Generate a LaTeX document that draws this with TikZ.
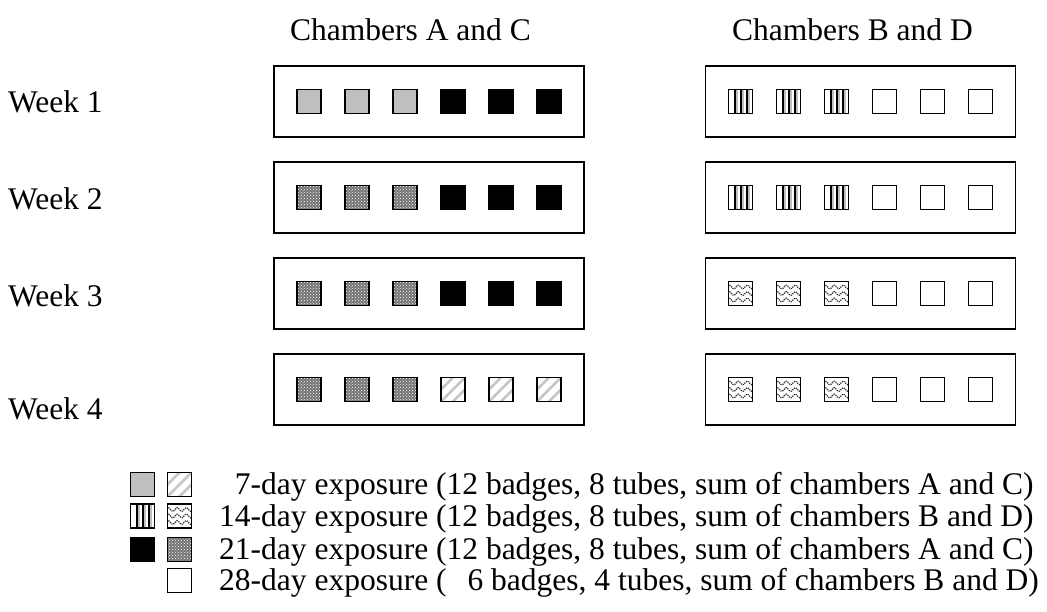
\documentclass[tikz,border=0pt]{standalone}
\usepackage{fontspec}
\setmainfont{Liberation Serif}
\usetikzlibrary{patterns}
\begin{document}
\begin{tikzpicture}[x=1pt,y=-1pt,
  every node/.style={font=\fontsize{31.5}{36}\selectfont},
  chamber/.style={draw, line width=1.8pt, minimum width=310pt, minimum height=71pt, inner sep=0pt},
  badge/.style={draw, line width=1.8pt, minimum size=24pt, inner sep=0pt},
  bgray/.style={badge, fill=black!25},
  bblack/.style={badge, fill=black},
  bwhite/.style={badge, fill=white},
  bvert/.style={badge, fill=white, path picture={
      \foreach \o in {-5.5,0.5,6.5} {
        \draw[black!25, line width=1.6pt, shift={(path picture bounding box.center)}] (\o+2,-14) -- (\o+2,14);
        \draw[black, line width=1.4pt, shift={(path picture bounding box.center)}] (\o,-14) -- (\o,14);
      }}},
  bcross/.style={badge, fill=black!55, path picture={
      \fill[pattern=crosshatch dots, pattern color=white] (path picture bounding box.south west) rectangle (path picture bounding box.north east);}},
  bdiag/.style={badge, fill=white, path picture={
      \foreach \o in {-24,-12,0,12,24}
        \draw[black!22, line width=2.8pt, shift={(path picture bounding box.center)}] (\o-14,14) -- (\o+14,-14);}},
  bwave/.style={badge, fill=white, path picture={
      \foreach \dy in {-6.5,0,6.5}
        \draw[black!85, line width=1.2pt, densely dotted, shift={(path picture bounding box.center)}]
          plot[domain=-13:13, samples=40, smooth] (\x, {\dy + 1.8*sin(\x*40)});}},
  lbl/.style={anchor=base west, inner sep=0pt},
]
\useasboundingbox (0,0) rectangle (1047,611);

% titles
\node[lbl] (tA) at (290,40) {Chambers A and C};
\node[lbl] (tB) at (732,40) {Chambers B and D};

% week labels
\node[lbl] (w1) at (8,112) {Week 1};
\node[lbl] (w2) at (8,209) {Week 2};
\node[lbl] (w3) at (8,306) {Week 3};
\node[lbl] (w4) at (8,419) {Week 4};

% chambers
\foreach \r/\yy in {1/101.5, 2/197.5, 3/293.5, 4/389.5} {
  \node[chamber] (cA\r) at (429,\yy) {};
  \node[chamber] (cB\r) at (860.5,\yy) {};
}

% badges A and C
\foreach \r/\sa/\sb in {1/bgray/bblack, 2/bcross/bblack, 3/bcross/bblack, 4/bcross/bdiag} {
  \foreach \k in {0,1,2} {
    \node[\sa] (a\r-\k) at ([xshift=-120pt+48*\k pt]cA\r.center) {};
  }
  \foreach \k in {3,4,5} {
    \node[\sb] (a\r-\k) at ([xshift=-120pt+48*\k pt]cA\r.center) {};
  }
}
% badges B and D
\foreach \r/\sa/\sb in {1/bvert/bwhite, 2/bvert/bwhite, 3/bwave/bwhite, 4/bwave/bwhite} {
  \foreach \k in {0,1,2} {
    \node[\sa] (b\r-\k) at ([xshift=-120pt+48*\k pt]cB\r.center) {};
  }
  \foreach \k in {3,4,5} {
    \node[\sb] (b\r-\k) at ([xshift=-120pt+48*\k pt]cB\r.center) {};
  }
}

% legend
\node[bgray] (l1a) at (142.5,484.5) {};
\node[bdiag] (l1b) at (179.5,484.5) {};
\node[bvert] (l2a) at (142.5,516) {};
\node[bwave] (l2b) at (179.5,516) {};
\node[bblack] (l3a) at (142.5,549.5) {};
\node[bcross] (l3b) at (179.5,549.5) {};
\node[bwhite] (l4b) at (179.5,580.5) {};

\node[lbl] (t1) at (219,494.5) {\hphantom{1}7-day exposure (12 badges, 8 tubes, sum of chambers A and C)};
\node[lbl] (t2) at (219,526) {14-day exposure (12 badges, 8 tubes, sum of chambers B and D)};
\node[lbl] (t3) at (219,559.5) {21-day exposure (12 badges, 8 tubes, sum of chambers A and C)};
\node[lbl] (t4) at (219,590.5) {28-day exposure (\hphantom{1}\,6 badges, 4 tubes, sum of chambers B and D)};
\end{tikzpicture}
\end{document}
